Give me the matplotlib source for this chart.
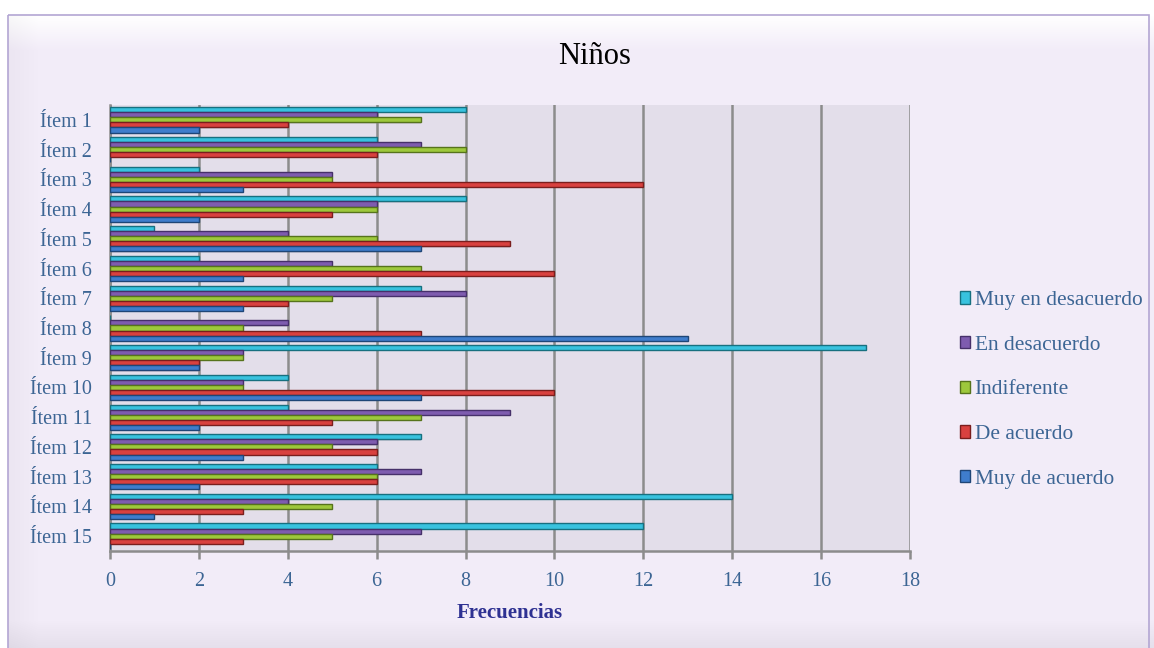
import numpy as np
import matplotlib
matplotlib.use("Agg")
import matplotlib.pyplot as plt
from matplotlib.patches import Rectangle, Patch

plt.rcParams['font.family'] = ['Liberation Serif', 'DejaVu Serif']

items = [f"Ítem {i}" for i in range(1, 16)]
series_names = ["Muy en desacuerdo", "En desacuerdo", "Indiferente",
                "De acuerdo", "Muy de acuerdo"]
muy_en_desacuerdo = [8, 6, 2, 8, 1, 2, 7, 0, 17, 4, 4, 7, 6, 14, 12]
en_desacuerdo     = [6, 7, 5, 6, 4, 5, 8, 4, 3, 3, 9, 6, 7, 4, 7]
indiferente       = [7, 8, 5, 6, 6, 7, 5, 3, 3, 3, 7, 5, 6, 5, 5]
de_acuerdo        = [4, 6, 12, 5, 9, 10, 4, 7, 2, 10, 5, 6, 6, 3, 3]
muy_de_acuerdo    = [2, 0, 3, 2, 7, 3, 3, 13, 2, 7, 2, 3, 2, 1, 0]
series_values = [muy_en_desacuerdo, en_desacuerdo, indiferente,
                 de_acuerdo, muy_de_acuerdo]

face_colors = ["#38C2DE", "#7E5CAF", "#9DC83C", "#D9413F", "#3F7DCC"]
edge_colors = ["#17707F", "#46306A", "#56731C", "#7A1E1D", "#1F4677"]

fig = plt.figure(figsize=(11.54, 6.48), dpi=100)
fig.patch.set_facecolor("white")

# framed panel with a soft bevel
bg = fig.add_axes([0, 0, 1, 1], zorder=-10)
bg.set_xlim(0, 1154)
bg.set_ylim(648, 0)
bg.axis("off")
H, W = 648, 1154
grad = np.zeros((H, W, 3))
base = np.array([0xF2, 0xEC, 0xF8]) / 255
grad[:] = base
yy = np.arange(H)[:, None]
xx = np.arange(W)[None, :]
top = np.clip((yy - 15) / 35.0, 0, 1)
white = np.array([1.0, 1.0, 1.0])
grad = grad * top[..., None] + white * (1 - top[..., None])
bottom = np.clip((yy - 620) / 28.0, 0, 1) * 0.05
grad = grad - bottom[..., None]
left = np.clip((30 - (xx - 8)) / 30.0, 0, 1) * 0.025
grad = grad - left[..., None]
grad = np.clip(grad, 0, 1)
grad[:15, :, :] = 1.0
grad[:, :8, :] = 1.0
bg.imshow(grad, extent=(0, W, H, 0), aspect="auto", interpolation="bilinear")
bg.add_patch(Rectangle((8, 15), 1141, 640, fill=False,
                       edgecolor="#B3A6D3", linewidth=1.2))

ax = fig.add_axes([110 / 1154, 1 - 551 / 648, 800 / 1154, 446 / 648])
ax.set_facecolor("#E3DEEA")

n = len(items)
y = np.arange(n)
bh = 0.17
for k, (vals, fc, ec) in enumerate(zip(series_values, face_colors, edge_colors)):
    off = (k - 2) * bh
    ax.barh(y + off + 0.04, vals, height=bh, color="#9E98A6", alpha=0.3,
            linewidth=0, zorder=2)
    ax.barh(y + off, vals, height=bh, color=fc, edgecolor=ec,
            linewidth=1.0, zorder=3)

ax.set_xlim(0, 18)
ax.set_ylim(n - 0.5, -0.5)
ax.set_xticks(range(0, 19, 2))
ax.set_yticks(y)
ax.set_yticklabels(items)
ax.xaxis.grid(True, color="#8C8C8C", linewidth=1.8)
ax.set_axisbelow(True)
for s in ["top", "right"]:
    ax.spines[s].set_visible(False)
for s in ["left", "bottom"]:
    ax.spines[s].set_color("#8C8C8C")
    ax.spines[s].set_linewidth(1.8)
ax.tick_params(axis="x", colors="#8C8C8C", labelcolor="#3C6594",
               labelsize=14.5, length=6, width=1.8, pad=9)
ax.tick_params(axis="y", length=0, labelcolor="#3C6594", labelsize=14.5, pad=13)

ax.set_xlabel("Frecuencias", fontsize=15, fontweight="bold", color="#2E3192",
              labelpad=9)
fig.text(595 / 1154, 1 - 57 / 648, "Niños", fontsize=22, color="black",
         ha="center", va="center")

handles = [Patch(facecolor=fc, edgecolor=ec, linewidth=1.0)
           for fc, ec in zip(face_colors, edge_colors)]
leg = fig.legend(handles, series_names, loc="center left",
                 bbox_to_anchor=(949 / 1154, 1 - 390 / 648),
                 frameon=False, fontsize=15.4, labelcolor="#3C6594",
                 handlelength=0.5, handleheight=0.5, handletextpad=0.2,
                 labelspacing=1.2, borderpad=0)

fig.savefig("out.png", dpi=100)
